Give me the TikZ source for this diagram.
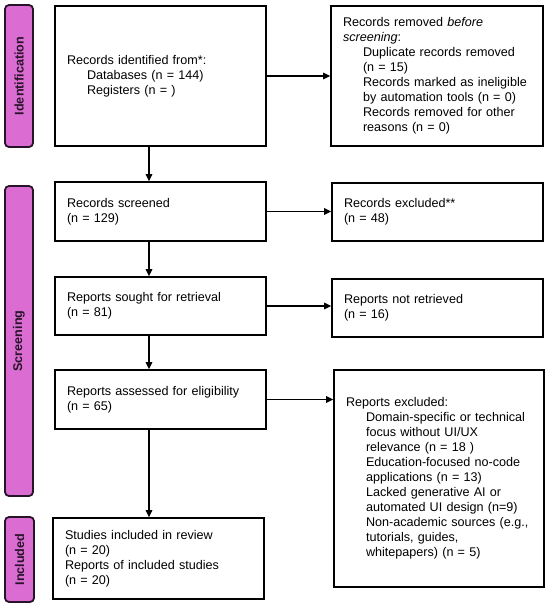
\documentclass[tikz,border=0pt]{standalone}
\usepackage{fontspec}
\setmainfont{Liberation Sans}
\usetikzlibrary{arrows.meta}
\definecolor{barfill}{RGB}{218,108,210}
\definecolor{barline}{RGB}{40,20,40}
\newcommand{\ind}{\hspace*{20pt}}
\tikzset{
  box/.style={draw=black, line width=1.6pt, fill=white, inner sep=0pt, align=left,
    font=\fontsize{12.6}{15}\selectfont},
  bar/.style={draw=barline, fill=barfill, line width=1.8pt, rounded corners=4pt},
  bartext/.style={font=\fontsize{12.6}{15}\selectfont\bfseries, rotate=90, text=barline},
  arr/.style={line width=1.2pt, -{Triangle[length=7pt,width=6.5pt]}}
}
% \mkbox{name}{x1}{y1}{x2}{y2}{text}
\newcommand{\mkbox}[6]{%
  \pgfmathsetmacro{\bw}{#4-#2}\pgfmathsetmacro{\bh}{#5-#3}\pgfmathsetmacro{\tw}{#4-#2-24}%
  \node[box, minimum width=\bw pt, minimum height=\bh pt, text width=\tw pt]
    (#1) at ({(#2+#4)/2},{(#3+#5)/2}) {#6};}
\newcommand{\mkbar}[6]{%
  \draw[bar] (#2,#3) rectangle (#4,#5);
  \node[bartext] (#1) at ({(#2+#4)/2},{(#3+#5)/2}) {#6};}
\begin{document}
\begin{tikzpicture}[x=1pt,y=-1pt]
\useasboundingbox (0,0) rectangle (550,606);
\fill[white] (0,0) rectangle (550,606);
% phase bars
\mkbar{pid}{5}{5}{33}{147}{Identification}
\mkbar{pscr}{5}{186}{33}{496}{Screening}
\mkbar{pinc}{5}{517}{34}{602}{Included}
% boxes
\mkbox{b1}{55}{6}{266}{146}{Records identified from*:\\\ind Databases (n = 144)\\\ind Registers (n = )}
\mkbox{rm}{331}{6}{543}{146}{Records removed \emph{before}\\\emph{screening}:\\\ind Duplicate records removed\\\ind (n = 15)\\\ind Records marked as ineligible\\\ind by automation tools (n = 0)\\\ind Records removed for other\\\ind reasons (n = 0)}
\mkbox{scr}{55}{182}{266}{241}{Records screened\\(n = 129)}
\mkbox{exc}{332}{183}{543}{241}{Records excluded**\\(n = 48)}
\mkbox{sought}{55}{277}{266}{335}{Reports sought for retrieval\\(n = 81)}
\mkbox{notret}{332}{279}{543}{337}{Reports not retrieved\\(n = 16)}
\mkbox{assess}{55}{370}{266}{429}{Reports assessed for eligibility\\(n = 65)}
\mkbox{repexc}{334}{370}{544}{587}{Reports excluded:\\\ind Domain-specific or technical\\\ind focus without UI/UX\\\ind relevance (n = 18 )\\\ind Education-focused no-code\\\ind applications (n = 13)\\\ind Lacked generative AI or\\\ind automated UI design (n=9)\\\ind Non-academic sources (e.g.,\\\ind tutorials, guides,\\\ind whitepapers) (n = 5)}
\mkbox{incl}{53}{518}{264}{599}{Studies included in review\\(n = 20)\\Reports of included studies\\(n = 20)}
% connectors
\coordinate (vx) at (149,0);
\draw[arr] (b1.east) -- (rm.west);
\draw[arr] (scr.east) -- (scr.east -| exc.west);
\draw[arr] (sought.east) -- (sought.east -| notret.west);
\draw[arr] (assess.east) -- (assess.east -| repexc.west);
\draw[arr] (b1.south -| vx) -- (scr.north -| vx);
\draw[arr] (scr.south -| vx) -- (sought.north -| vx);
\draw[arr] (sought.south -| vx) -- (assess.north -| vx);
\draw[arr] (assess.south -| vx) -- (incl.north -| vx);
\end{tikzpicture}
\end{document}
